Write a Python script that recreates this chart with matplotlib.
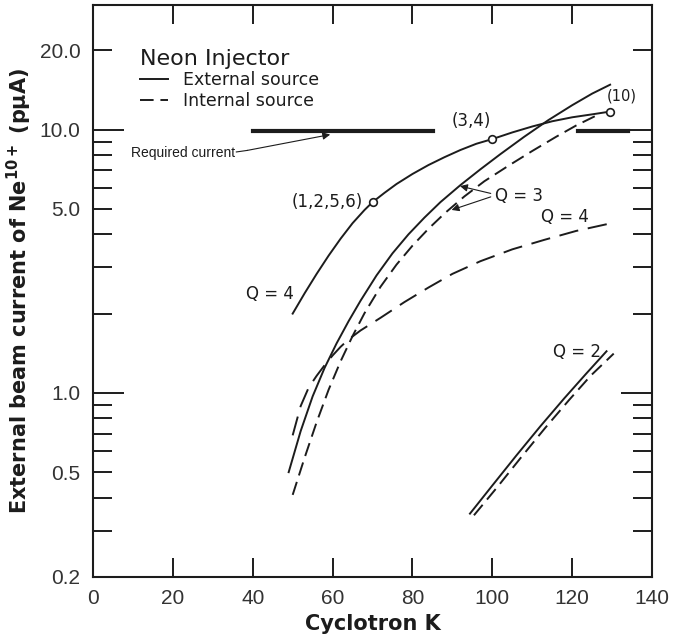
import matplotlib
matplotlib.use("Agg")
import matplotlib.pyplot as plt
from matplotlib.ticker import FixedLocator, FixedFormatter, NullFormatter

plt.rcParams['font.family'] = ['DejaVu Sans']

INK = '#1c1c1c'

# Q=4, external source (solid) with the marked points
q4_ext_k = [50, 53, 56, 59, 62, 65, 68, 70, 73, 76, 80, 84, 88, 92, 96, 100,
            105, 110, 115, 120, 125, 129.5]
q4_ext_i = [2.00, 2.39, 2.83, 3.32, 3.85, 4.41, 4.95, 5.30, 5.75, 6.21, 6.78, 7.33,
            7.85, 8.36, 8.83, 9.20, 9.75, 10.27, 10.75, 11.13, 11.42, 11.70]
mark_k = [70, 100, 129.5]
mark_i = [5.3, 9.2, 11.7]
mark_txt = ['(1,2,5,6)', '(3,4)', '(10)']

# Q=3, external (solid) and internal (dashed)
q3_ext_k = [49, 52, 55, 58, 61, 64, 67, 71, 75, 79, 83, 87, 92, 97, 102, 108,
            114, 120, 125, 129.5]
q3_ext_i = [0.50, 0.716, 0.97, 1.245, 1.542, 1.871, 2.239, 2.793, 3.388, 4.0, 4.63,
            5.30, 6.15, 7.06, 8.06, 9.39, 10.85, 12.37, 13.69, 14.8]
q3_int_k = [50, 53, 56, 59, 62, 65, 68, 72, 76, 80, 84, 88, 93, 98, 104, 110,
            116, 121, 127]
q3_int_i = [0.41, 0.568, 0.774, 1.028, 1.318, 1.644, 2.009, 2.529, 3.069, 3.622,
            4.198, 4.797, 5.572, 6.362, 7.28, 8.29, 9.39, 10.36, 11.49]

# Q=4, internal (dashed)
q4_int_k = [50, 52, 54, 56, 58, 60, 62, 64, 67, 72, 78, 84, 90, 97, 105, 113, 121, 130]
q4_int_i = [0.69, 0.891, 1.047, 1.161, 1.274, 1.387, 1.496, 1.596, 1.726, 1.928,
            2.213, 2.512, 2.831, 3.162, 3.508, 3.811, 4.121, 4.416]

# Q=2, external (solid) and internal (dashed)
q2_ext_k = [94.4, 100, 106, 112, 118, 123.5, 128.6]
q2_ext_i = [0.348, 0.445, 0.578, 0.746, 0.953, 1.183, 1.439]
q2_int_k = [95.4, 101.2, 107.2, 113.2, 119.2, 124.7, 130.4]
q2_int_i = [0.343, 0.438, 0.569, 0.735, 0.939, 1.165, 1.41]

# required current, drawn in two pieces
req_i = 9.85
req_k1 = [40, 85.2]
req_k2 = [121.5, 134]

fig = plt.figure(figsize=(6.75, 6.36), dpi=100)
ax = fig.add_axes([0.1378, 0.0928, 0.8282, 0.8993])
ax.set_yscale('log')
ax.set_xlim(0, 140)
ax.set_ylim(0.2, 29.7)

lw = 1.4
ax.plot(q4_ext_k, q4_ext_i, color=INK, lw=lw)
ax.plot(q3_ext_k, q3_ext_i, color=INK, lw=lw, label='External source')
ax.plot(q3_int_k, q3_int_i, color=INK, lw=lw, dashes=(7, 3.5), label='Internal source')
ax.plot(q4_int_k, q4_int_i, color=INK, lw=lw, dashes=(10, 5))
ax.plot(q2_ext_k, q2_ext_i, color=INK, lw=lw)
ax.plot(q2_int_k, q2_int_i, color=INK, lw=lw, dashes=(7, 3.5))
ax.plot(req_k1, [req_i, req_i], color=INK, lw=3)
ax.plot(req_k2, [req_i, req_i], color=INK, lw=3)
ax.plot(mark_k, mark_i, 'o', ms=5.5, mfc='white', mec=INK, mew=1.2, zorder=5)

# point labels
ax.text(mark_k[0] - 2.4, mark_i[0], mark_txt[0], ha='right', va='center', fontsize=12, color=INK)
ax.text(94.7, 10.8, mark_txt[1], ha='center', va='center', fontsize=12, color=INK)
ax.text(132.5, 13.4, mark_txt[2], ha='center', va='center', fontsize=10.5, color=INK)

# curve labels
ax.text(44.3, 2.37, 'Q = 4', ha='center', va='center', fontsize=12, color=INK)
ax.text(118.2, 4.64, 'Q = 4', ha='center', va='center', fontsize=12, color=INK)
ax.text(121.2, 1.43, 'Q = 2', ha='center', va='center', fontsize=12, color=INK)
ax.text(100.6, 5.6, 'Q = 3', ha='left', va='center', fontsize=12, color=INK)
arr = dict(arrowstyle='-|>', lw=0.8, color=INK, mutation_scale=11, shrinkA=0, shrinkB=0)
ax.annotate('', xy=(91.9, 6.1), xytext=(99.6, 5.72), arrowprops=arr)
ax.annotate('', xy=(89.8, 4.95), xytext=(99.6, 5.55), arrowprops=arr)

# required current note
ax.text(35.6, 8.18, 'Required current', ha='right', va='center', fontsize=10,
        family='Liberation Sans', color=INK)
ax.plot([35.9, 38.6], [8.22, 8.33], color=INK, lw=0.8)
ax.annotate('', xy=(59.4, 9.57), xytext=(38.6, 8.33), arrowprops=arr)

leg = ax.legend(title='Neon Injector', loc='upper left', bbox_to_anchor=(0.062, 0.945),
                frameon=False, fontsize=12.5, title_fontsize=16, alignment='left',
                handlelength=1.6, handletextpad=0.9, labelspacing=0.15, borderpad=0.2)
for t in leg.get_texts():
    t.set_color(INK)
leg.get_title().set_color(INK)

# ticks
ax.set_xticks(range(0, 141, 20))
ax.yaxis.set_major_locator(FixedLocator([1, 10]))
ax.yaxis.set_major_formatter(FixedFormatter(['1.0', '10.0']))
minor_vals = [0.2, 0.3, 0.4, 0.5, 0.6, 0.7, 0.8, 0.9, 2, 3, 4, 5, 6, 7, 8, 9, 20]
minor_lab = ['0.2', '', '', '0.5', '', '', '', '', '', '', '', '5.0', '', '', '', '', '20.0']
ax.yaxis.set_minor_locator(FixedLocator(minor_vals))
ax.yaxis.set_minor_formatter(FixedFormatter(minor_lab))
ax.xaxis.set_minor_formatter(NullFormatter())

ax.tick_params(axis='both', which='both', direction='in', top=True, right=True,
               width=1.4, color=INK, labelcolor='#333333', labelsize=15, pad=9)
ax.tick_params(axis='x', which='major', length=14)
ax.tick_params(axis='y', which='major', length=22)
ax.tick_params(axis='y', which='minor', length=14)
for lab in ax.get_xticklabels() + ax.get_yticklabels() + ax.get_yticklabels(minor=True):
    lab.set_family('Liberation Sans')

for s in ax.spines.values():
    s.set_linewidth(1.5)
    s.set_color(INK)

ax.set_xlabel('Cyclotron K', fontsize=15, fontweight='bold', color=INK, labelpad=4)
ax.set_ylabel('External beam current of Ne$^{\\mathbf{10+}}$ (pμA)', fontsize=15,
              fontweight='bold', color=INK, labelpad=4)

fig.savefig('out.png', dpi=100)
